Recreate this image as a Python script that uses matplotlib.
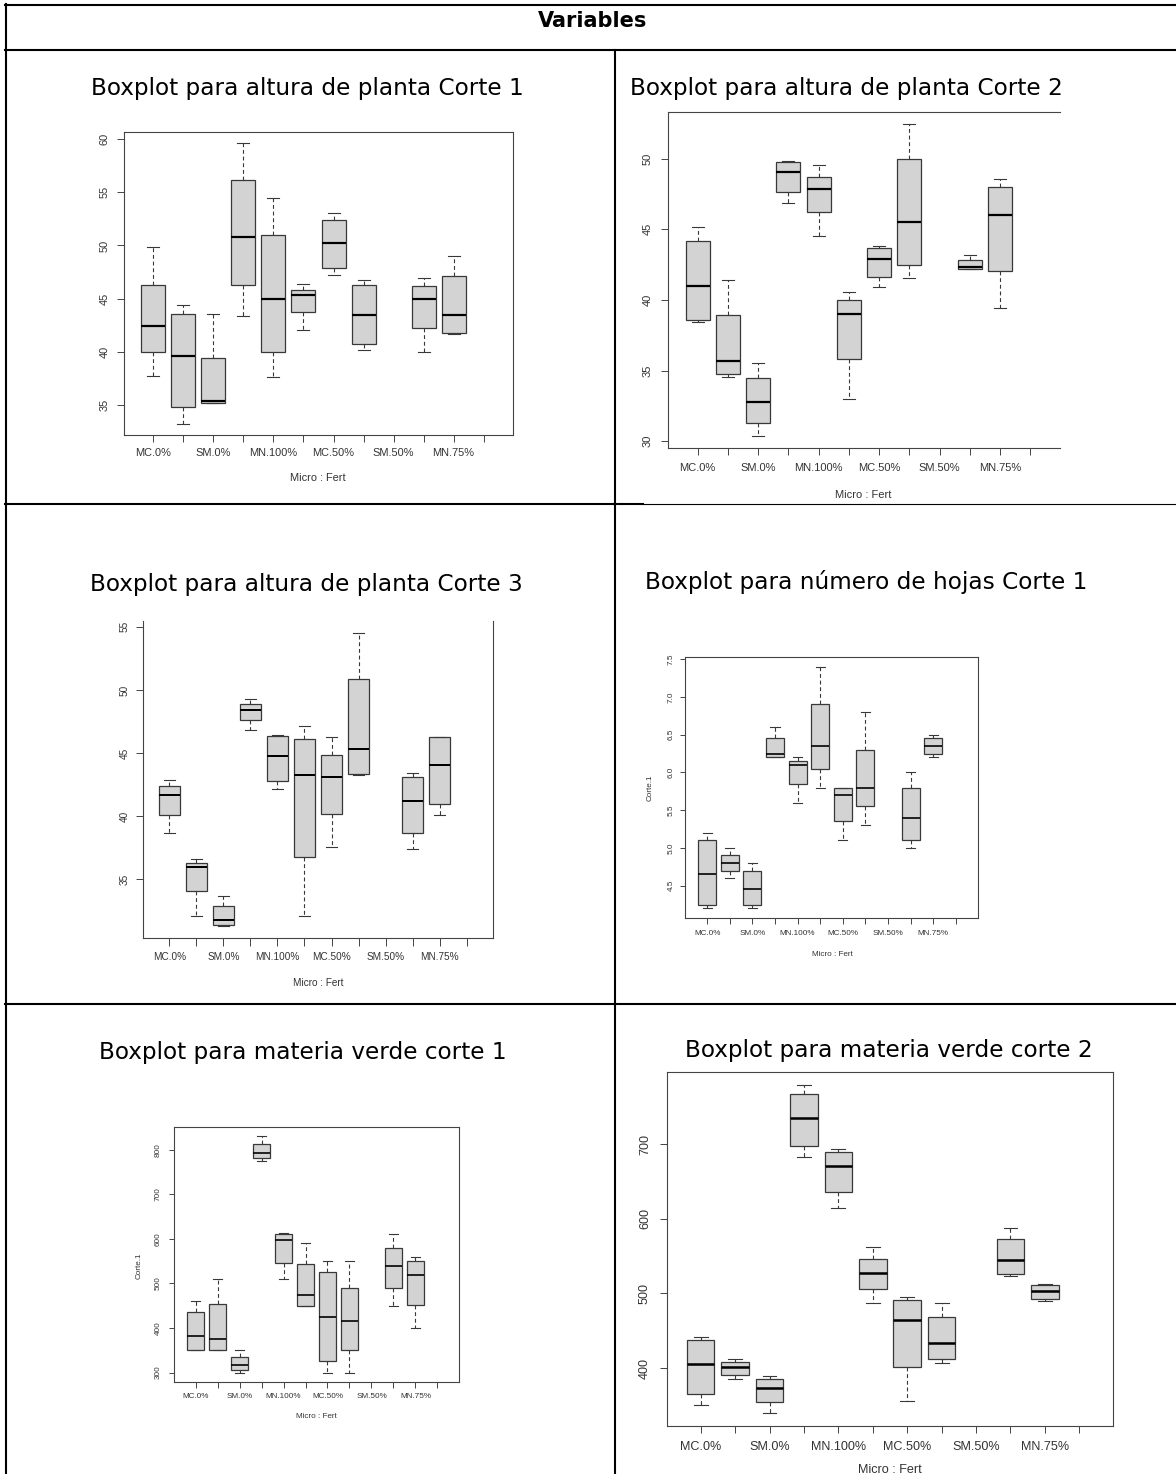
import matplotlib.pyplot as plt

W, H = 1176, 1474
fig = plt.figure(figsize=(W / 100, H / 100), dpi=100)

# shared x axis of every boxplot: interaction Micro:Fert, 12 slots, R prints every other label
micro_fert = ["MC.0%", "", "SM.0%", "", "MN.100%", "", "MC.50%", "", "SM.50%", "", "MN.75%", ""]
box_pos = [1, 2, 3, 4, 5, 6, 7, 8, 10, 11]

# each row: (whisker low, Q1, median, Q3, whisker high)
altura_c1 = [(37.7, 40.0, 42.4, 46.25, 49.9), (33.25, 34.85, 39.6, 43.55, 44.4),
             (35.2, 35.16, 35.4, 39.47, 43.6), (43.4, 46.25, 50.8, 56.1, 59.6),
             (37.6, 40.0, 45.0, 51.0, 54.5), (42.1, 43.75, 45.3, 45.8, 46.4),
             (47.2, 47.9, 50.2, 52.4, 53.0), (40.2, 40.7, 43.5, 46.3, 46.8),
             (40.0, 42.25, 45.0, 46.2, 46.9), (41.7, 41.8, 43.5, 47.1, 49.0)]
altura_c2 = [(38.43, 38.57, 40.98, 44.19, 45.2), (34.53, 34.75, 35.71, 38.93, 41.45),
             (30.4, 31.28, 32.81, 34.51, 35.57), (46.88, 47.66, 49.06, 49.74, 49.83),
             (44.52, 46.2, 47.85, 48.7, 49.55), (33.0, 35.83, 39.02, 39.99, 40.6),
             (40.89, 41.62, 42.92, 43.7, 43.84), (41.57, 42.47, 45.54, 50.0, 52.43),
             (42.16, 42.21, 42.35, 42.85, 43.15), (39.42, 42.02, 46.0, 48.02, 48.54)]
altura_c3 = [(38.68, 40.1, 41.7, 42.36, 42.91), (32.13, 34.08, 35.97, 36.31, 36.63),
             (31.29, 31.4, 31.82, 32.92, 33.71), (46.83, 47.62, 48.4, 48.88, 49.27),
             (42.15, 42.83, 44.8, 46.33, 46.46), (32.13, 36.79, 43.25, 46.14, 47.12),
             (37.6, 40.15, 43.09, 44.86, 46.25), (43.3, 43.36, 45.3, 50.87, 54.53),
             (37.44, 38.68, 41.23, 43.07, 43.46), (40.12, 40.99, 44.09, 46.3, 46.3)]
hojas_c1 = [(4.2, 4.25, 4.65, 5.1, 5.2), (4.6, 4.7, 4.8, 4.9, 5.0),
            (4.2, 4.25, 4.45, 4.7, 4.8), (6.2, 6.2, 6.25, 6.45, 6.6),
            (5.6, 5.85, 6.1, 6.15, 6.2), (5.8, 6.05, 6.35, 6.9, 7.4),
            (5.1, 5.35, 5.7, 5.8, 5.8), (5.3, 5.55, 5.8, 6.3, 6.8),
            (5.0, 5.1, 5.4, 5.8, 6.0), (6.2, 6.25, 6.35, 6.45, 6.5)]
verde_c1 = [(350, 350, 381, 435, 460), (350, 350, 375, 454, 510),
            (300, 305, 316, 335, 350), (776, 781, 792, 812, 830),
            (510, 545, 597, 612, 614), (450, 450, 475, 544, 590),
            (300, 325, 425, 525, 550), (300, 350, 415, 490, 550),
            (450, 490, 540, 580, 610), (401, 451, 520, 550, 560)]
verde_c2 = [(350, 365, 406, 437, 441), (385, 391, 401, 408, 412),
            (340, 354, 374, 385, 390), (683, 698, 735, 767, 779),
            (615, 636, 670, 689, 694), (487, 506, 528, 546, 562),
            (356, 401, 465, 491, 495), (407, 412, 434, 468, 487),
            (523, 526, 545, 573, 587), (490, 492, 503, 511, 513)]

yt_c1 = [35, 40, 45, 50, 55, 60]
yt_c2 = [30, 35, 40, 45, 50]
yt_c3 = [35, 40, 45, 50, 55]
yt_hojas = [4.5, 5.0, 5.5, 6.0, 6.5, 7.0, 7.5]
yt_v1 = [300, 400, 500, 600, 700, 800]
yt_v2 = [400, 500, 600, 700]

titles = ["Boxplot para altura de planta Corte 1", "Boxplot para altura de planta Corte 2",
          "Boxplot para altura de planta Corte 3", "Boxplot para número de hojas Corte 1",
          "Boxplot para materia verde corte 1", "Boxplot para materia verde corte 2"]

RFONT = "Liberation Sans"
TXT = "#333333"


def fx(x):
    return x / W


def fy(y):
    return 1 - y / H


def hline(y, x0, x1, lw=1.5):
    fig.add_artist(plt.Line2D([fx(x0), fx(x1)], [fy(y), fy(y)], color="black", lw=lw))


def vline(x, y0, y1, lw=1.5):
    fig.add_artist(plt.Line2D([fx(x), fx(x)], [fy(y0), fy(y1)], color="black", lw=lw))


def boxpanel(rows, yticks, fmt, rect, fs, tick_px, dx, dy, xlab_xy, ylab_xy=None, hide=()):
    left, top, right, bottom = rect
    ax = fig.add_axes([fx(left), fy(bottom), (right - left) / W, (bottom - top) / H])
    stats = [dict(whislo=r[0], q1=r[1], med=r[2], q3=r[3], whishi=r[4], fliers=[]) for r in rows]
    ax.bxp(stats, positions=box_pos, widths=0.8, capwidths=0.4, patch_artist=True,
           showfliers=False,
           boxprops=dict(facecolor="#d3d3d3", edgecolor="#383838", lw=0.9),
           medianprops=dict(color="black", lw=0.2 * fs),
           whiskerprops=dict(color="#383838", lw=0.8, ls=(0, (3.5, 2.5))),
           capprops=dict(color="#383838", lw=0.8))
    # R style limits: 4% padding around data and around 0.5..12.5
    lo = min(r[0] for r in rows)
    hi = max(r[4] for r in rows)
    pad = 0.04 * (hi - lo)
    ax.set_ylim(lo - pad, hi + pad)
    ax.set_xlim(0.02, 12.98)
    ax.set_xticks(range(1, 13), labels=micro_fert)
    ax.set_yticks(yticks, labels=[fmt.format(v) for v in yticks])
    tl = tick_px * 0.72
    ax.tick_params(axis="x", length=tl, width=0.7, color="#444444", pad=(dx - tick_px) * 0.72,
                   labelsize=fs, labelcolor=TXT)
    ax.tick_params(axis="y", length=tl, width=0.7, color="#444444", pad=(dy - tick_px) * 0.72,
                   labelsize=fs, labelcolor=TXT, labelrotation=90)
    for lab in ax.get_xticklabels():
        lab.set_va("center")
        lab.set_family(RFONT)
    for lab in ax.get_yticklabels():
        lab.set_va("center")
        lab.set_ha("center")
        lab.set_family(RFONT)
    for side, sp in ax.spines.items():
        sp.set_color("#444444")
        sp.set_linewidth(0.8)
        if side in hide:
            sp.set_visible(False)
    fig.text(fx(xlab_xy[0]), fy(xlab_xy[1]), "Micro : Fert", ha="center", va="center",
             fontsize=fs, color=TXT, family=RFONT)
    if ylab_xy is not None:
        fig.text(fx(ylab_xy[0]), fy(ylab_xy[1]), "Corte.1", ha="center", va="center",
                 rotation=90, fontsize=fs, color=TXT, family=RFONT)
    return ax


# table frame
hline(5, 5, W)
hline(50, 5, W)
vline(6, 4, H)
vline(615, 50, H)
hline(504, 5, 643)
hline(504, 643, W, lw=0.8)
hline(1004, 5, W)

fig.text(fx(593), fy(21), "Variables", ha="center", va="center", fontsize=15,
         fontweight="bold", family="DejaVu Sans")

title_xy = [(307, 89), (846, 89), (306, 585), (866, 582), (303, 1052), (889, 1051)]
for t, (x, y) in zip(titles, title_xy):
    fig.text(fx(x), fy(y), t, ha="center", va="center", fontsize=16.7, family="DejaVu Sans")

boxpanel(altura_c1, yt_c1, "{:g}", (124, 132, 513, 435), 7.9, 6.7, 18, 19, (318, 478))
boxpanel(altura_c2, yt_c2, "{:g}", (668, 112, 1060, 448), 8.0, 6.7, 20, 20, (863, 495),
         hide=("right",))
boxpanel(altura_c3, yt_c3, "{:g}", (143, 621, 493, 938), 7.2, 7.5, 19, 18, (318, 983),
         hide=("top",))
boxpanel(hojas_c1, yt_hojas, "{:.1f}", (685, 657, 978, 918), 5.9, 5.5, 15, 14, (832, 954),
         ylab_xy=(650, 788))
boxpanel(verde_c1, yt_v1, "{:g}", (174, 1127, 459, 1382), 5.9, 5.5, 15, 16, (316, 1417),
         ylab_xy=(139, 1266))
boxpanel(verde_c2, yt_v2, "{:g}", (667, 1072, 1113, 1426), 9.1, 7.3, 21, 22, (890, 1470))

fig.savefig("out.png", dpi=100)
